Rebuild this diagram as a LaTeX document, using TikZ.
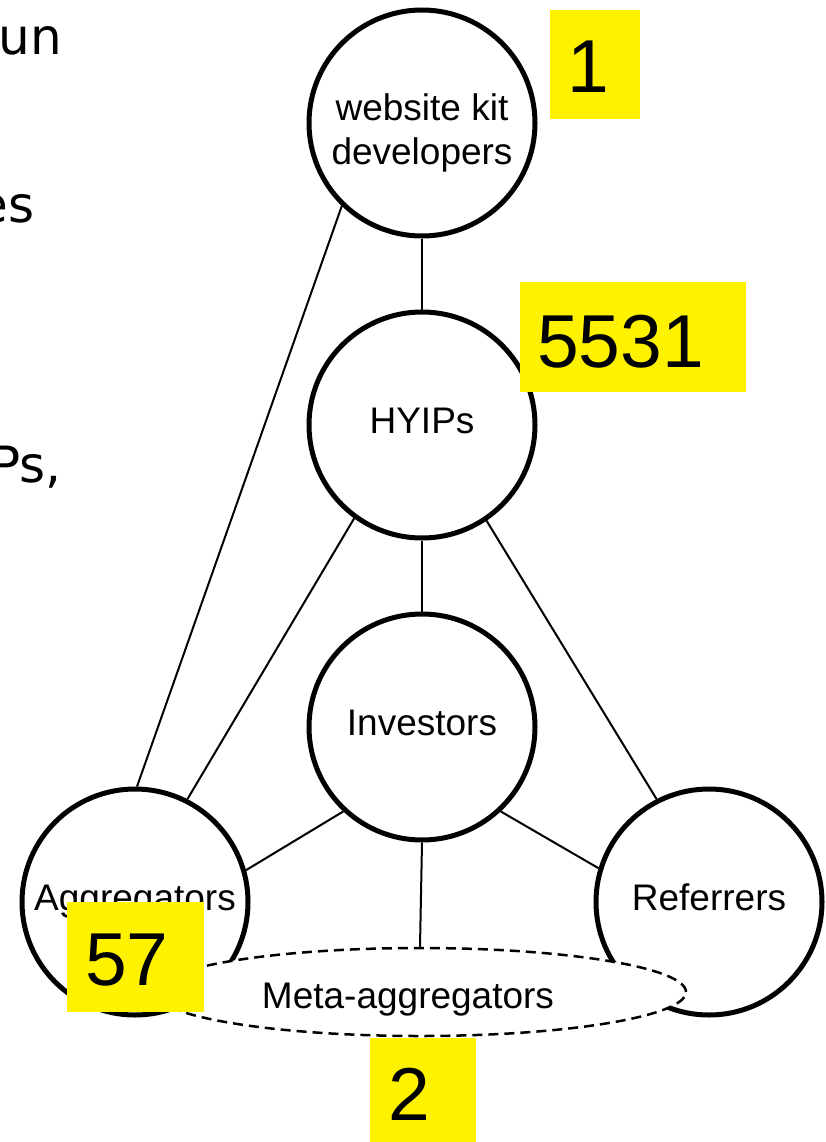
\documentclass[tikz,border=0pt]{standalone}
\usepackage{fontspec}
\setmainfont{Liberation Sans}
\newfontfamily\fragfont{DejaVu Sans}
\usetikzlibrary{shapes.geometric}
\begin{document}
\begin{tikzpicture}[x=1pt,y=-1pt,
  actor/.style={circle, draw, line width=5pt, fill=white, minimum size=226pt, inner sep=0pt},
  lbl/.style={font=\fontsize{37}{44}\selectfont, align=center, inner sep=0pt},
  onel/.style={lbl, text height=26pt, text depth=10pt},
  link/.style={line width=2pt},
  ybox/.style={fill=yellow, inner sep=0pt, draw=none},
  num/.style={font=\fontsize{75}{75}\selectfont, inner sep=0pt, anchor=base west},
  frag/.style={font=\fragfont\fontsize{50}{60}\selectfont, inner sep=0pt, anchor=base east}]
\useasboundingbox (0,0) rectangle (825,1142);
\clip (0,0) rectangle (825,1142);

% cut-off slide text on the left
\node[frag] (f1) at (62,55) {un};
\node[frag] (f2) at (35,222) {es};
\node[frag] (f3) at (62,482) {Ps,};

% actors
\node[actor] (web) at (422,123) {};
\node[lbl] (webl) at (422,133) {website kit\\developers};
\node[actor, onel] (hyip) at (422,425) {HYIPs};
\node[actor, onel] (inv) at (422,727) {Investors};
\node[actor, onel] (agg) at (135,902) {Aggregators};
\node[actor, onel] (ref) at (709,902) {Referrers};

% connectors
\draw[link] (web.226) -- (agg.89);
\draw[link] (web.south) -- (hyip.north);
\draw[link] (hyip.234) -- (agg.63);
\draw[link] (hyip.south) -- (inv.north);
\draw[link] (hyip.304) -- (ref.117);
\draw[link] (inv.227) -- (agg.16);
\draw[link] (inv.313) -- (ref.163);

% meta-aggregators
\node[ellipse, draw, dashed, dash pattern=on 10pt off 6pt, line width=2.5pt, fill=white,
      minimum width=532pt, minimum height=88pt, inner sep=0pt] (meta) at (420,992) {};
\node[lbl, anchor=base] (metal) at (408,1008) {Meta-aggregators};
\draw[link] (inv.south) -- (meta.north);

% counts
\node[ybox, minimum width=90pt, minimum height=109pt] (b1) at (595,64.5) {};
\node[num] (t1) at (567,93) {1};
\node[ybox, minimum width=226pt, minimum height=110pt] (b2) at (633,337) {};
\node[num] (t2) at (537,367) {5531};
\node[ybox, minimum width=137pt, minimum height=110pt] (b3) at (135.5,957) {};
\node[num] (t3) at (85,985) {57};
\node[ybox, minimum width=106pt, minimum height=110pt] (b4) at (423,1093) {};
\node[num] (t4) at (388,1120) {2};
\end{tikzpicture}
\end{document}
